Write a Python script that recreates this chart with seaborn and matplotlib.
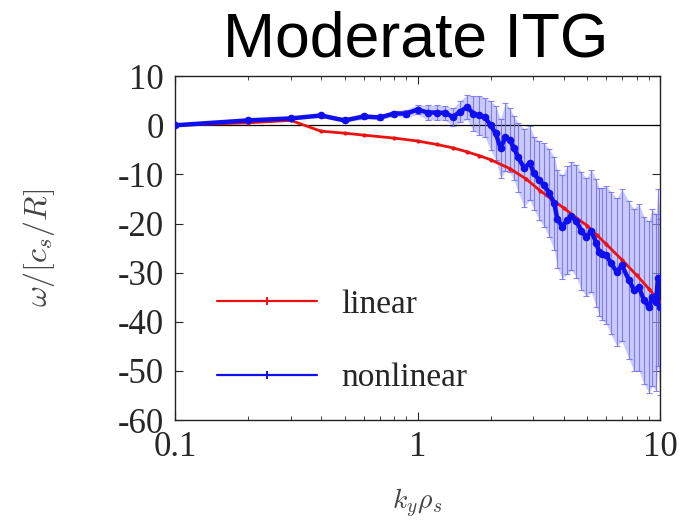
import numpy as np
import pandas as pd
import matplotlib
matplotlib.use("Agg")
import matplotlib.pyplot as plt
import seaborn as sns
from matplotlib.lines import Line2D
from matplotlib.ticker import LogLocator, NullFormatter

# ---- data ----
k_linear = [0.1, 0.2, 0.3, 0.4, 0.5, 0.6, 0.8, 1.0, 1.2, 1.4, 1.6, 1.8, 2.0,
            2.4, 2.8, 3.2, 3.6, 4.0, 4.5, 5.0, 5.5, 6.0, 7.0, 8.0, 9.0, 10.0]
w_linear = [0.0, 0.5, 1.0, -1.2, -1.6, -2.0, -2.6, -3.2, -3.9, -4.6, -5.4, -6.2, -7.0,
            -8.8, -10.9, -13.3, -15.2, -16.8, -18.8, -20.4, -22.4, -24.2, -27.5, -30.5, -33.3, -36.0]

k_nonlinear = [0.1, 0.2, 0.3, 0.4, 0.5, 0.6, 0.7, 0.8, 0.9, 1.0, 1.1, 1.2, 1.3, 1.4,
               1.5, 1.6, 1.7, 1.8, 1.9, 2.0, 2.1, 2.2, 2.3, 2.4, 2.5, 2.6, 2.75, 2.9,
               3.03, 3.17, 3.33, 3.49, 3.66, 3.77, 3.95, 4.14, 4.31, 4.52, 4.74, 4.97,
               5.21, 5.46, 5.61, 5.77, 6.0, 6.26, 6.64, 6.96, 7.44, 7.8, 8.18, 8.58,
               9.0, 9.27, 9.63, 9.8, 10.0]
w_nonlinear = [0.0, 1.0, 1.4, 2.0, 1.0, 1.8, 1.6, 2.4, 2.4, 3.2, 2.6, 2.6, 2.5, 1.7,
               2.8, 3.7, 2.4, 2.0, 1.6, 0.0, -1.6, -4.7, -2.4, -3.0, -4.7, -6.5, -8.7, -7.7,
               -9.8, -11.2, -12.2, -13.8, -15.9, -19.0, -20.7, -19.3, -18.5, -19.5, -21.5, -22.8,
               -21.5, -24.0, -25.8, -26.2, -26.4, -28.0, -29.9, -28.5, -31.5, -33.5, -33.0, -35.6,
               -37.0, -35.0, -36.0, -31.0, -37.0]
err_nonlinear = [0.2, 0.3, 0.3, 0.4, 0.4, 0.5, 0.5, 0.6, 0.8, 1.0, 1.5, 1.5, 1.5, 1.8,
                 2.2, 2.5, 3.5, 4.0, 4.0, 5.0, 5.5, 6.0, 7.0, 6.5, 6.5, 7.0, 8.0, 7.5,
                 7.5, 8.0, 8.5, 9.0, 9.5, 10.0, 10.5, 11.0, 11.0, 11.5, 12.0, 12.0,
                 12.5, 13.0, 13.0, 13.5, 14.0, 14.5, 15.0, 15.5, 16.0, 16.5, 17.0, 17.0,
                 17.5, 18.0, 18.0, 18.0, 18.0]

series_labels = ["linear", "nonlinear"]
series_colors = ["#ee1111", "#1010ee"]

df_lin = pd.DataFrame({"k": k_linear, "w": w_linear})
df_nl = pd.DataFrame({"k": k_nonlinear, "w": w_nonlinear, "err": err_nonlinear})

sns.set_style("ticks")
plt.rcParams["font.family"] = ["Liberation Serif", "DejaVu Serif"]
plt.rcParams["mathtext.fontset"] = "cm"
plt.rcParams["axes.unicode_minus"] = False

fig = plt.figure(figsize=(6.89, 5.29), dpi=100)
ax = fig.add_axes([0.254, 0.206, 0.704, 0.650])

# error band + bars
ax.fill_between(df_nl["k"], df_nl["w"] - df_nl["err"], df_nl["w"] + df_nl["err"],
                color="#a8a8fa", alpha=0.6, linewidth=0, zorder=1)
ax.errorbar(df_nl["k"], df_nl["w"], yerr=df_nl["err"], fmt="none",
            ecolor="#6a6aee", elinewidth=0.8, capsize=2.5, capthick=0.8,
            alpha=0.8, zorder=2)

ax.axhline(0, color="black", linewidth=0.9, zorder=1.5)

sns.lineplot(data=df_lin, x="k", y="w", ax=ax, color=series_colors[0], linewidth=2.0,
             marker="o", markersize=3, markeredgewidth=0, sort=False,
             legend=False, zorder=3)
sns.lineplot(data=df_nl, x="k", y="w", ax=ax, color=series_colors[1], linewidth=3.2,
             marker="o", markersize=5.5, markeredgewidth=0, sort=False,
             legend=False, zorder=4)

ax.set_xscale("log")
ax.set_xlim(0.1, 10)
ax.set_ylim(-60, 10)
ax.set_yticks(np.arange(-60, 11, 10))
ax.set_xticks([0.1, 1, 10])
ax.set_xticklabels(["0.1", "1", "10"])
ax.xaxis.set_minor_locator(LogLocator(base=10, subs=np.arange(2, 10)))
ax.xaxis.set_minor_formatter(NullFormatter())
ax.tick_params(which="both", direction="in", top=True, right=True)
ax.tick_params(which="major", length=6, width=0.8, labelsize=25, pad=8)
ax.tick_params(which="minor", length=3, width=0.6)
for s in ax.spines.values():
    s.set_linewidth(1.0)
    s.set_color("#222222")

ax.set_xlabel(r"$k_y\rho_s$", fontsize=20, color="#444444", labelpad=16)
ax.set_ylabel(r"$\omega/[c_s/R]$", fontsize=23, color="#444444", labelpad=44)

fig.text(0.603, 0.925, "Moderate ITG", ha="center", va="center",
         fontsize=45, family="Liberation Sans", color="black")

handles = [Line2D([], [], color=c, linewidth=1.6, marker="+", markersize=6,
                  markeredgewidth=1.4) for c in series_colors]
leg = ax.legend(handles, series_labels, loc="lower left",
                bbox_to_anchor=(0.024, -0.01), frameon=False,
                fontsize=24, handlelength=3.0, labelspacing=1.3,
                handletextpad=0.75, markerscale=1.0)

fig.savefig("out.png", dpi=100)
